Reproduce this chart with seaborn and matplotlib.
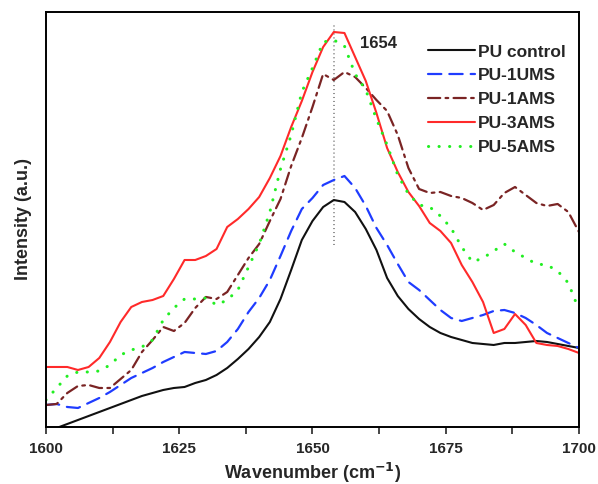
import numpy as np
import pandas as pd
import matplotlib
matplotlib.use("Agg")
import matplotlib.pyplot as plt
import seaborn as sns

# Wavenumber axis (cm^-1), sampled every 2 cm^-1
wavenumber = list(range(1600, 1701, 2))

# Absorbance-style intensities (arbitrary units)
pu_control = [-5, -1, 3, 7, 11, 15, 19, 23, 27, 31, 34, 37, 39, 40, 44, 47, 52, 59, 68, 78,
              90, 105, 128, 157, 187, 206, 220, 227, 225, 215, 198, 177, 149, 131, 118, 108,
              100, 94, 90, 87, 84, 83, 82, 84, 84, 85, 86, 85, 83, 81, 79]
pu_1ums = [22, 23, 20, 19, 24, 29, 35, 42, 49, 54, 59, 65, 70, 75, 74, 73, 76, 85, 98, 115,
           129, 147, 171, 196, 218, 229, 242, 247, 251, 239, 221, 199, 182, 163, 145, 137,
           127, 117, 109, 106, 109, 112, 116, 117, 114, 109, 102, 94, 89, 84, 79]
pu_1ams = [22, 23, 34, 41, 42, 39, 39, 48, 57, 75, 87, 100, 96, 104, 119, 130, 128, 135, 152,
           169, 183, 206, 228, 261, 289, 320, 353, 347, 355, 350, 339, 327, 316, 292, 259,
           238, 234, 235, 231, 229, 224, 217, 222, 234, 240, 232, 224, 221, 223, 215, 195]
pu_3ams = [60, 60, 60, 57, 60, 69, 85, 105, 120, 125, 127, 131, 148, 167, 167, 171, 178, 200,
           208, 218, 230, 249, 271, 300, 326, 355, 380, 395, 394, 370, 346, 314, 279, 255,
           235, 221, 204, 196, 184, 162, 145, 125, 94, 98, 113, 102, 84, 82, 81, 78, 74]
pu_5ams = [27, 39, 51, 55, 55, 56, 62, 72, 77, 80, 87, 107, 119, 128, 128, 129, 122, 127, 137,
           160, 183, 215, 258, 292, 335, 359, 385, 387, 381, 353, 337, 308, 282, 252, 233,
           222, 220, 211, 199, 180, 165, 169, 176, 183, 175, 169, 163, 162, 156, 144, 117]

labels = ["PU control", "PU-1UMS", "PU-1AMS", "PU-3AMS", "PU-5AMS"]
series = [pu_control, pu_1ums, pu_1ams, pu_3ams, pu_5ams]
colors = ["#111111", "#1f3cff", "#7a2424", "#ff2a2a", "#22ee22"]
styles = ["-", (0, (6, 3.6)), (0, (5.5, 2.4, 1.2, 2.4)), "-", (0, (0.05, 3.4))]
widths = [1.5, 1.6, 1.6, 1.5, 2.2]

peak_position = 1654
peak_label = "1654"

sns.set_style("white")
plt.rcParams["font.family"] = ["Liberation Sans", "DejaVu Sans"]
plt.rcParams["font.weight"] = "bold"
plt.rcParams["mathtext.default"] = "bf"

fig = plt.figure(figsize=(5.98, 4.84), dpi=100)
ax = fig.add_axes([0.0769, 0.1178, 0.8913, 0.8574])

for lab, vals, col, ls, lw in zip(labels, series, colors, styles, widths):
    sns.lineplot(x=wavenumber, y=vals, ax=ax, color=col, linestyle=ls,
                 linewidth=lw, label=lab, dash_capstyle="round")

# Marker line at the amide I band maximum
ax.plot([peak_position, peak_position], [182, 404], color="#888888",
        linestyle=(0, (0.6, 1.6)), linewidth=1.3, zorder=1)
ax.text(1659, 384, peak_label, fontsize=12, fontweight="bold",
        ha="left", va="center")

ax.set_xlim(1600, 1700)
ax.set_ylim(0, 415)
ax.set_xticks([1600, 1625, 1650, 1675, 1700])
ax.set_xticks(np.arange(1600, 1701, 12.5), minor=True)
ax.set_yticks([])
ax.tick_params(axis="x", which="both", direction="out", length=5, width=1.2,
               bottom=True, labelsize=11, pad=6)
for lbl in ax.get_xticklabels():
    lbl.set_fontweight("bold")

for sp in ax.spines.values():
    sp.set_linewidth(1.4)
    sp.set_color("black")

ax.set_xlabel("Wavenumber (cm$^{-1}$)", fontsize=13, fontweight="bold", labelpad=3)
ax.set_ylabel("Intensity (a.u.)", fontsize=13, fontweight="bold", labelpad=10)

leg = ax.legend(frameon=False, loc="upper left", bbox_to_anchor=(0.717, 0.922),
                borderaxespad=0, borderpad=0, handlelength=2.7, handletextpad=0.15,
                labelspacing=0.5, prop={"size": 12.5, "weight": "bold"})

fig.savefig("out.png", dpi=100)
